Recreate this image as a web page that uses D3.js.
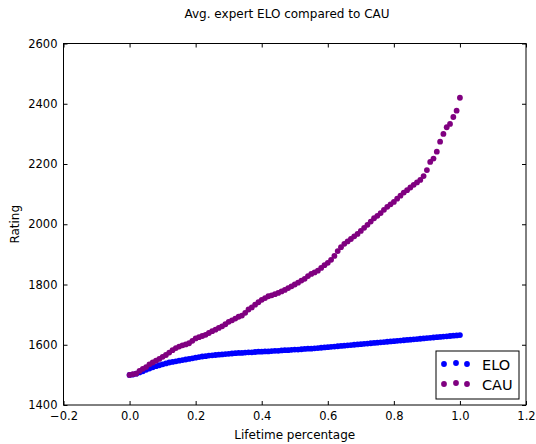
<!DOCTYPE html>
<html>
<head>
<meta charset="utf-8">
<script src="https://cdn.jsdelivr.net/npm/d3@7"></script>
<style>
  body { margin: 0; background: #fff; }
  svg { display: block; }
  text { font-family: "DejaVu Sans", sans-serif; fill: #000; }
</style>
</head>
<body>
<div class="chart"></div>
<script>
// lifetime percentage of each sample
const pct = [0.00, 0.01, 0.02, 0.03, 0.04, 0.05, 0.06, 0.07, 0.08, 0.09,
    0.10, 0.11, 0.12, 0.13, 0.14, 0.15, 0.16, 0.17, 0.18, 0.19,
    0.20, 0.21, 0.22, 0.23, 0.24, 0.25, 0.26, 0.27, 0.28, 0.29,
    0.30, 0.31, 0.32, 0.33, 0.34, 0.35, 0.36, 0.37, 0.38, 0.39,
    0.40, 0.41, 0.42, 0.43, 0.44, 0.45, 0.46, 0.47, 0.48, 0.49,
    0.50, 0.51, 0.52, 0.53, 0.54, 0.55, 0.56, 0.57, 0.58, 0.59,
    0.60, 0.61, 0.62, 0.63, 0.64, 0.65, 0.66, 0.67, 0.68, 0.69,
    0.70, 0.71, 0.72, 0.73, 0.74, 0.75, 0.76, 0.77, 0.78, 0.79,
    0.80, 0.81, 0.82, 0.83, 0.84, 0.85, 0.86, 0.87, 0.88, 0.89,
    0.90, 0.91, 0.92, 0.93, 0.94, 0.95, 0.96, 0.97, 0.98, 0.99, 1.00];

const elo = [1500, 1501, 1504, 1508, 1512, 1517, 1521, 1525, 1529, 1532,
    1535, 1538, 1541, 1543, 1545, 1547, 1549, 1551, 1553, 1555,
    1557, 1559, 1561, 1562, 1564, 1565, 1566, 1567, 1568, 1569,
    1570, 1571, 1572, 1573, 1573, 1574, 1575, 1575, 1576, 1577,
    1577, 1578, 1578, 1579, 1580, 1580, 1581, 1582, 1582, 1583,
    1584, 1584, 1585, 1586, 1587, 1587, 1588, 1589, 1590, 1591,
    1592, 1593, 1594, 1595, 1596, 1597, 1598, 1599, 1600, 1601,
    1602, 1603, 1604, 1605, 1606, 1607, 1608, 1609, 1610, 1611,
    1612, 1613, 1614, 1615, 1616, 1617, 1618, 1619, 1620, 1621,
    1622, 1623, 1624, 1625, 1626, 1627, 1628, 1629, 1630, 1631, 1632];

const cau = [1500, 1502, 1504, 1513, 1520, 1526, 1535, 1541, 1547, 1553,
    1560, 1566, 1574, 1582, 1589, 1594, 1598, 1601, 1605, 1613,
    1621, 1625, 1629, 1633, 1639, 1645, 1650, 1656, 1661, 1668,
    1676, 1681, 1687, 1693, 1697, 1706, 1717, 1724, 1733, 1741,
    1749, 1755, 1761, 1764, 1768, 1772, 1777, 1782, 1788, 1794,
    1800, 1806, 1813, 1819, 1828, 1835, 1840, 1846, 1855, 1864,
    1872, 1882, 1895, 1911, 1924, 1935, 1943, 1951, 1960, 1968,
    1978, 1988, 1998, 2009, 2020, 2028, 2037, 2048, 2058, 2066,
    2074, 2085, 2095, 2105, 2113, 2122, 2131, 2139, 2147, 2160,
    2180, 2207, 2218, 2241, 2274, 2300, 2322, 2333, 2356, 2377, 2420];

const xTicks = [-0.2, 0.0, 0.2, 0.4, 0.6, 0.8, 1.0, 1.2];
const yTicks = [1400, 1600, 1800, 2000, 2200, 2400, 2600];

const series = [
    { name: 'ELO', color: '#0000ff', values: elo },
    { name: 'CAU', color: '#800080', values: cau }
];

const width = 536, height = 444;
const margin = { top: 43.5, right: 10, bottom: 39, left: 63.5 };

const svg = d3.select('.chart').append('svg')
    .attr('width', width)
    .attr('height', height);

const x = d3.scaleLinear().domain([-0.2, 1.2]).range([margin.left, width - margin.right]);
const y = d3.scaleLinear().domain([1400, 2600]).range([height - margin.bottom, margin.top]);

const fmtX = d => d3.format('.1f')(d).replace('-', '\u2212');

// ticks on all four sides, pointing inward
svg.append('g')
    .attr('transform', `translate(0,${y(1400)})`)
    .call(d3.axisBottom(x).tickValues(xTicks).tickFormat(fmtX).tickSize(-4).tickPadding(7));
svg.append('g')
    .attr('transform', `translate(0,${y(2600)})`)
    .call(d3.axisTop(x).tickValues(xTicks).tickFormat('').tickSize(-4));
svg.append('g')
    .attr('transform', `translate(${x(-0.2)},0)`)
    .call(d3.axisLeft(y).tickValues(yTicks).tickFormat(d3.format('d')).tickSize(-4).tickPadding(6));
svg.append('g')
    .attr('transform', `translate(${x(1.2)},0)`)
    .call(d3.axisRight(y).tickValues(yTicks).tickFormat('').tickSize(-4));

svg.selectAll('.domain').remove();
svg.selectAll('.tick line').attr('stroke', '#000');
svg.selectAll('.tick text').style('font-size', '11.5px').attr('fill', '#000');

// plot points
series.forEach(s => {
    svg.append('g').selectAll('circle')
        .data(s.values)
        .join('circle')
        .attr('cx', (d, i) => x(pct[i]))
        .attr('cy', d => y(d))
        .attr('r', 2.9)
        .attr('fill', s.color);
});

// frame
svg.append('rect')
    .attr('x', x(-0.2)).attr('y', y(2600))
    .attr('width', x(1.2) - x(-0.2)).attr('height', y(1400) - y(2600))
    .attr('fill', 'none').attr('stroke', '#000').attr('stroke-width', 1);

// labels
svg.append('text')
    .attr('x', 287).attr('y', 18)
    .attr('text-anchor', 'middle')
    .style('font-size', '12px')
    .text('Avg. expert ELO compared to CAU');

svg.append('text')
    .attr('x', (x(-0.2) + x(1.2)) / 2).attr('y', 439)
    .attr('text-anchor', 'middle')
    .style('font-size', '12px')
    .text('Lifetime percentage');

svg.append('text')
    .attr('transform', `translate(19,${(y(1400) + y(2600)) / 2}) rotate(-90)`)
    .attr('text-anchor', 'middle')
    .style('font-size', '12px')
    .text('Rating');

// legend
const lg = svg.append('g').attr('transform', 'translate(436,351)');
lg.append('rect')
    .attr('width', 83).attr('height', 48)
    .attr('fill', '#fff').attr('stroke', '#000').attr('stroke-width', 1);
series.forEach((s, i) => {
    const row = lg.append('g').attr('transform', `translate(0,${13 + i * 20})`);
    [8, 20, 31].forEach((dx, j) => {
        row.append('circle')
            .attr('cx', dx).attr('cy', j === 1 ? -1 : 0)
            .attr('r', 2.9).attr('fill', s.color);
    });
    row.append('text')
        .attr('x', 46).attr('y', 5.5)
        .style('font-size', '14.5px')
        .text(s.name);
});
</script>
</body>
</html>
